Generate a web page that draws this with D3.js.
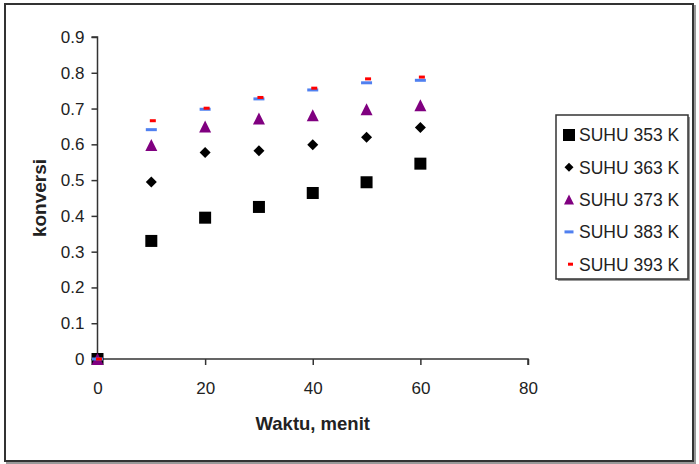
<!DOCTYPE html>
<html>
<head>
<meta charset="utf-8">
<script src="https://cdn.jsdelivr.net/npm/d3@7"></script>
<style>
  html, body { margin: 0; padding: 0; background: #fff; }
  svg { display: block; }
  text { font-family: "Liberation Sans", Arial, sans-serif; fill: #222; }
</style>
</head>
<body>
<script>
const waktu = [0, 10, 20, 30, 40, 50, 60];
const suhu353 = [0, 0.330, 0.395, 0.425, 0.464, 0.494, 0.546];
const suhu363 = [0, 0.495, 0.577, 0.582, 0.599, 0.620, 0.647];
const suhu373 = [0, 0.598, 0.650, 0.672, 0.681, 0.698, 0.709];
const suhu383 = [0, 0.641, 0.698, 0.727, 0.752, 0.772, 0.779];
const suhu393 = [0, 0.666, 0.701, 0.731, 0.757, 0.783, 0.788];
const seriesNames = ["SUHU 353 K", "SUHU 363 K", "SUHU 373 K", "SUHU 383 K", "SUHU 393 K"];
const xTicks = [0, 20, 40, 60, 80];
const yTicks = [0, 0.1, 0.2, 0.3, 0.4, 0.5, 0.6, 0.7, 0.8, 0.9];
const xTitle = "Waktu, menit";
const yTitle = "konversi";

const W = 699, H = 464;
const svg = d3.select("body").append("svg").attr("width", W).attr("height", H);

// outer frame with shadow
svg.append("rect").attr("x", 7).attr("y", 6).attr("width", 688).attr("height", 457)
  .attr("fill", "none").attr("stroke", "#999").attr("stroke-width", 2);
svg.append("rect").attr("x", 5).attr("y", 4).attr("width", 688).attr("height", 457)
  .attr("fill", "#fff").attr("stroke", "#333").attr("stroke-width", 2);

const x = d3.scaleLinear().domain([0, 80]).range([97.5, 528]);
const y = d3.scaleLinear().domain([0, 0.9]).range([359, 37]);

const axisColor = "#333";

const yAxis = svg.append("g").attr("transform", `translate(${x(0)},0)`)
  .call(d3.axisLeft(y).tickValues(yTicks).tickSize(6).tickPadding(7)
    .tickFormat(d => d === 0 ? "0" : d3.format(".1f")(d)));
const xAxis = svg.append("g").attr("transform", `translate(0,${y(0)})`)
  .call(d3.axisBottom(x).tickValues(xTicks).tickSize(6).tickPadding(17).tickFormat(d3.format("d")));

[yAxis, xAxis].forEach(g => {
  g.select(".domain").attr("stroke", axisColor).attr("stroke-width", 1.5);
  g.selectAll(".tick line").attr("stroke", axisColor).attr("stroke-width", 1.5);
  g.selectAll(".tick text").attr("font-size", 17).attr("fill", "#222")
    .attr("font-family", "'Liberation Sans', Arial, sans-serif");
});
// remove outer tick ends on domain (d3 draws ticks outer size 6 by default)
yAxis.select(".domain").attr("d", `M0,${y(0.9)}V${y(0)}` ).attr("transform", null);
yAxis.select(".domain").attr("d", `M-6,${y(0.9)}H0V${y(0)}`);
xAxis.select(".domain").attr("d", `M${x(0)},0H${x(80)}V6`);

// axis titles
svg.append("text").attr("x", (x(0) + x(80)) / 2).attr("y", 430)
  .attr("text-anchor", "middle").attr("font-size", 18.5).attr("font-weight", "bold")
  .text(xTitle);
svg.append("text").attr("transform", `translate(46,${(y(0) + y(0.9)) / 2}) rotate(-90)`)
  .attr("text-anchor", "middle").attr("font-size", 19).attr("font-weight", "bold")
  .text(yTitle);

// markers
const seriesData = [suhu353, suhu363, suhu373, suhu383, suhu393];
const markerDefs = [
  { draw: (g, s) => g.append("rect").attr("x", -s/2).attr("y", -s/2).attr("width", s).attr("height", s).attr("fill", "#000"), size: 12, lsize: 12 },
  { draw: (g, s) => g.append("path").attr("d", `M0,${-s/2}L${s/2},0L0,${s/2}L${-s/2},0Z`).attr("fill", "#000"), size: 11, lsize: 9 },
  { draw: (g, s) => g.append("path").attr("d", `M0,${-s/2}L${s/2},${s/2}L${-s/2},${s/2}Z`).attr("fill", "#800080"), size: 12, lsize: 10 },
  { draw: (g, s) => g.append("rect").attr("x", -s/2).attr("y", -1.5).attr("width", s).attr("height", 3).attr("fill", "#5080f0"), size: 11, lsize: 9 },
  { draw: (g, s) => g.append("rect").attr("x", -s/2 + 1.5).attr("y", -1.5).attr("width", s).attr("height", 3).attr("fill", "#ff0000"), size: 6, lsize: 5 }
];

seriesData.forEach((vals, i) => {
  const g = svg.append("g").attr("class", "series-" + i);
  vals.forEach((v, j) => {
    const mg = g.append("g").attr("transform", `translate(${x(waktu[j])},${y(v)})`);
    markerDefs[i].draw(mg, markerDefs[i].size);
  });
});

// legend
const lg = svg.append("g");
lg.append("rect").attr("x", 558).attr("y", 117).attr("width", 132).attr("height", 164)
  .attr("fill", "#999");
lg.append("rect").attr("x", 556).attr("y", 115).attr("width", 132).attr("height", 164)
  .attr("fill", "#fff").attr("stroke", "#333").attr("stroke-width", 1.5);
seriesNames.forEach((name, i) => {
  const cy = 135 + i * 32.3;
  const mg = lg.append("g").attr("transform", `translate(569,${cy})`);
  markerDefs[i].draw(mg, markerDefs[i].lsize);
  lg.append("text").attr("x", 579).attr("y", cy).attr("dy", "0.36em")
    .attr("font-size", 17.5).text(name);
});
</script>
</body>
</html>
